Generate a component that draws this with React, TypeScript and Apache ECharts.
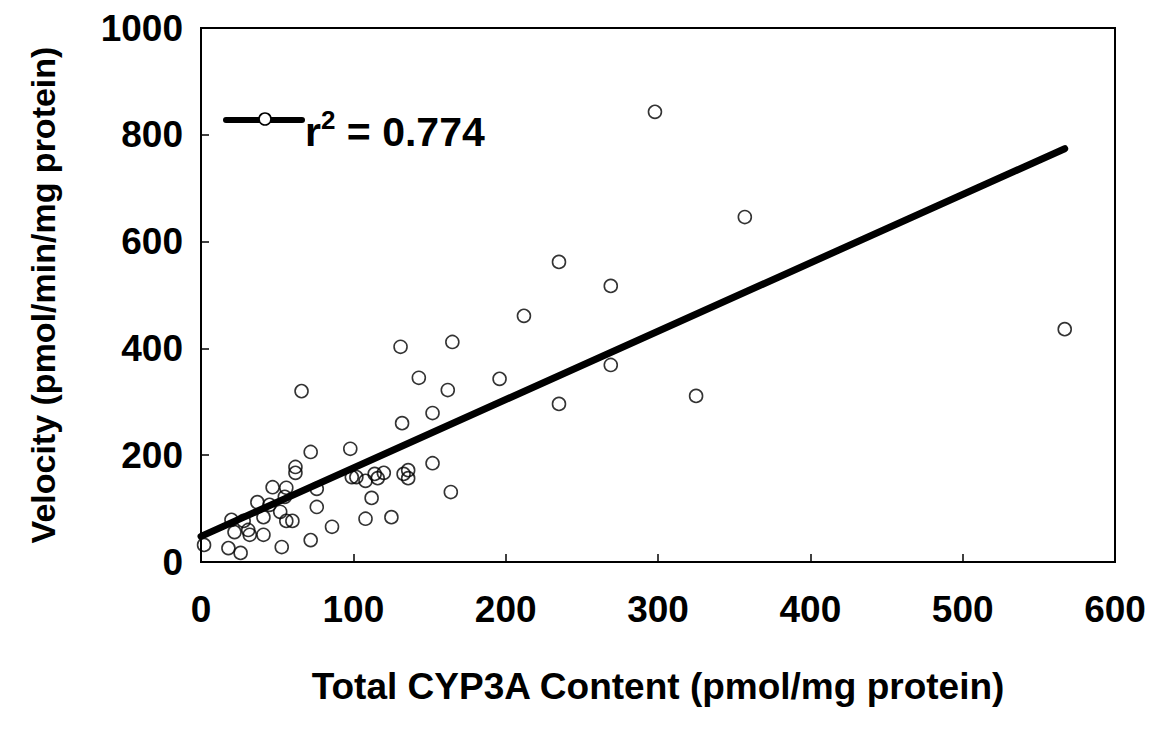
import React, { useEffect, useRef } from "react";
import * as echarts from "echarts";

const FONT = "'Liberation Sans', Arial, Helvetica, sans-serif";

const cypContent = [
  2, 18, 26, 20, 22, 28, 31, 32, 37, 41, 41, 47, 45, 52, 55, 56, 53, 56, 60, 62,
  62, 66, 72, 72, 76, 76, 86, 98, 99, 102, 108, 108, 112, 114, 116, 120, 125, 131,
  132, 133, 136, 136, 143, 152, 152, 162, 165, 164, 196, 212, 235, 235, 269, 269,
  298, 325, 357, 567,
];
const velocity = [
  32, 26, 17, 79, 56, 77, 60, 51, 112, 84, 51, 140, 107, 94, 122, 139, 28, 77, 77, 178,
  167, 320, 206, 41, 137, 103, 66, 212, 159, 159, 152, 81, 120, 165, 157, 167, 84, 403,
  260, 165, 172, 157, 345, 279, 185, 322, 412, 131, 343, 461, 562, 296, 517, 369,
  843, 311, 646, 436,
];
const fitX = [0, 567];
const fitY = [48, 774];
const xTicks = [0, 100, 200, 300, 400, 500, 600];
const yTicks = [0, 200, 400, 600, 800, 1000];
const legendLabel = ["r", "2", " = 0.774"];

export default function App() {
  const ref = useRef<HTMLDivElement>(null);
  useEffect(() => {
    if (!ref.current) return;
    const chart = echarts.init(ref.current, null, { renderer: "svg" });
    const points = cypContent.map((x, i) => [x, velocity[i]]);
    const fit = fitX.map((x, i) => [x, fitY[i]]);
    chart.setOption({
      animation: false,
      backgroundColor: "#ffffff",
      grid: {
        left: 201,
        right: 42,
        top: 28,
        bottom: 172,
        show: true,
        borderColor: "#000",
        borderWidth: 2,
        backgroundColor: "transparent",
      },
      xAxis: {
        type: "value",
        min: xTicks[0],
        max: xTicks[xTicks.length - 1],
        interval: 100,
        name: "Total CYP3A Content (pmol/mg protein)",
        nameLocation: "middle",
        nameGap: 106,
        nameTextStyle: { fontFamily: FONT, fontWeight: "bold", fontSize: 37, color: "#000" },
        axisLine: { show: true, onZero: false, lineStyle: { color: "#000", width: 2 } },
        axisTick: { show: true, inside: true, length: 8, lineStyle: { color: "#000", width: 1.5 } },
        splitLine: { show: false },
        axisLabel: {
          fontFamily: FONT,
          fontWeight: "bold",
          fontSize: 37,
          color: "#000",
          margin: 29,
          formatter: (v: number) => String(v),
        },
      },
      yAxis: {
        type: "value",
        min: yTicks[0],
        max: yTicks[yTicks.length - 1],
        interval: 200,
        name: "Velocity (pmol/min/mg protein)",
        nameLocation: "middle",
        nameGap: 141,
        nameTextStyle: { fontFamily: FONT, fontWeight: "bold", fontSize: 34, color: "#000" },
        axisLine: { show: true, onZero: false, lineStyle: { color: "#000", width: 2 } },
        axisTick: { show: true, inside: true, length: 8, lineStyle: { color: "#000", width: 1.5 } },
        splitLine: { show: false },
        axisLabel: {
          fontFamily: FONT,
          fontWeight: "bold",
          fontSize: 37,
          color: "#000",
          margin: 18,
          formatter: (v: number) => String(v),
        },
      },
      series: [
        {
          type: "line",
          data: fit,
          showSymbol: false,
          symbol: "none",
          lineStyle: { color: "#000", width: 7, cap: "round" },
          z: 2,
        },
        {
          type: "scatter",
          data: points,
          symbol: "circle",
          symbolSize: 13,
          itemStyle: { color: "transparent", borderColor: "#000", borderWidth: 1.6 },
          z: 3,
        },
      ],
      graphic: [
        {
          type: "line",
          shape: { x1: 226, y1: 120, x2: 302, y2: 120 },
          style: { stroke: "#000", lineWidth: 6, lineCap: "round" },
        },
        {
          type: "circle",
          shape: { cx: 265, cy: 119, r: 6 },
          style: { fill: "#fff", stroke: "#000", lineWidth: 1.6 },
        },
        {
          type: "text",
          x: 305,
          y: 132,
          style: {
            text: `{r|${legendLabel[0]}}{s|${legendLabel[1]}}{t|${legendLabel[2]}}`,
            verticalAlign: "middle",
            rich: {
              r: { fontFamily: FONT, fontWeight: "bold", fontSize: 41, fill: "#000" },
              s: { fontFamily: FONT, fontWeight: "bold", fontSize: 26, fill: "#000", verticalAlign: "top", padding: [0, 0, 24, 0] },
              t: { fontFamily: FONT, fontWeight: "bold", fontSize: 41, fill: "#000" },
            },
          },
        },
      ],
    });
    return () => chart.dispose();
  }, []);
  return <div ref={ref} style={{ width: 1157, height: 734, margin: -8 }} />;
}
